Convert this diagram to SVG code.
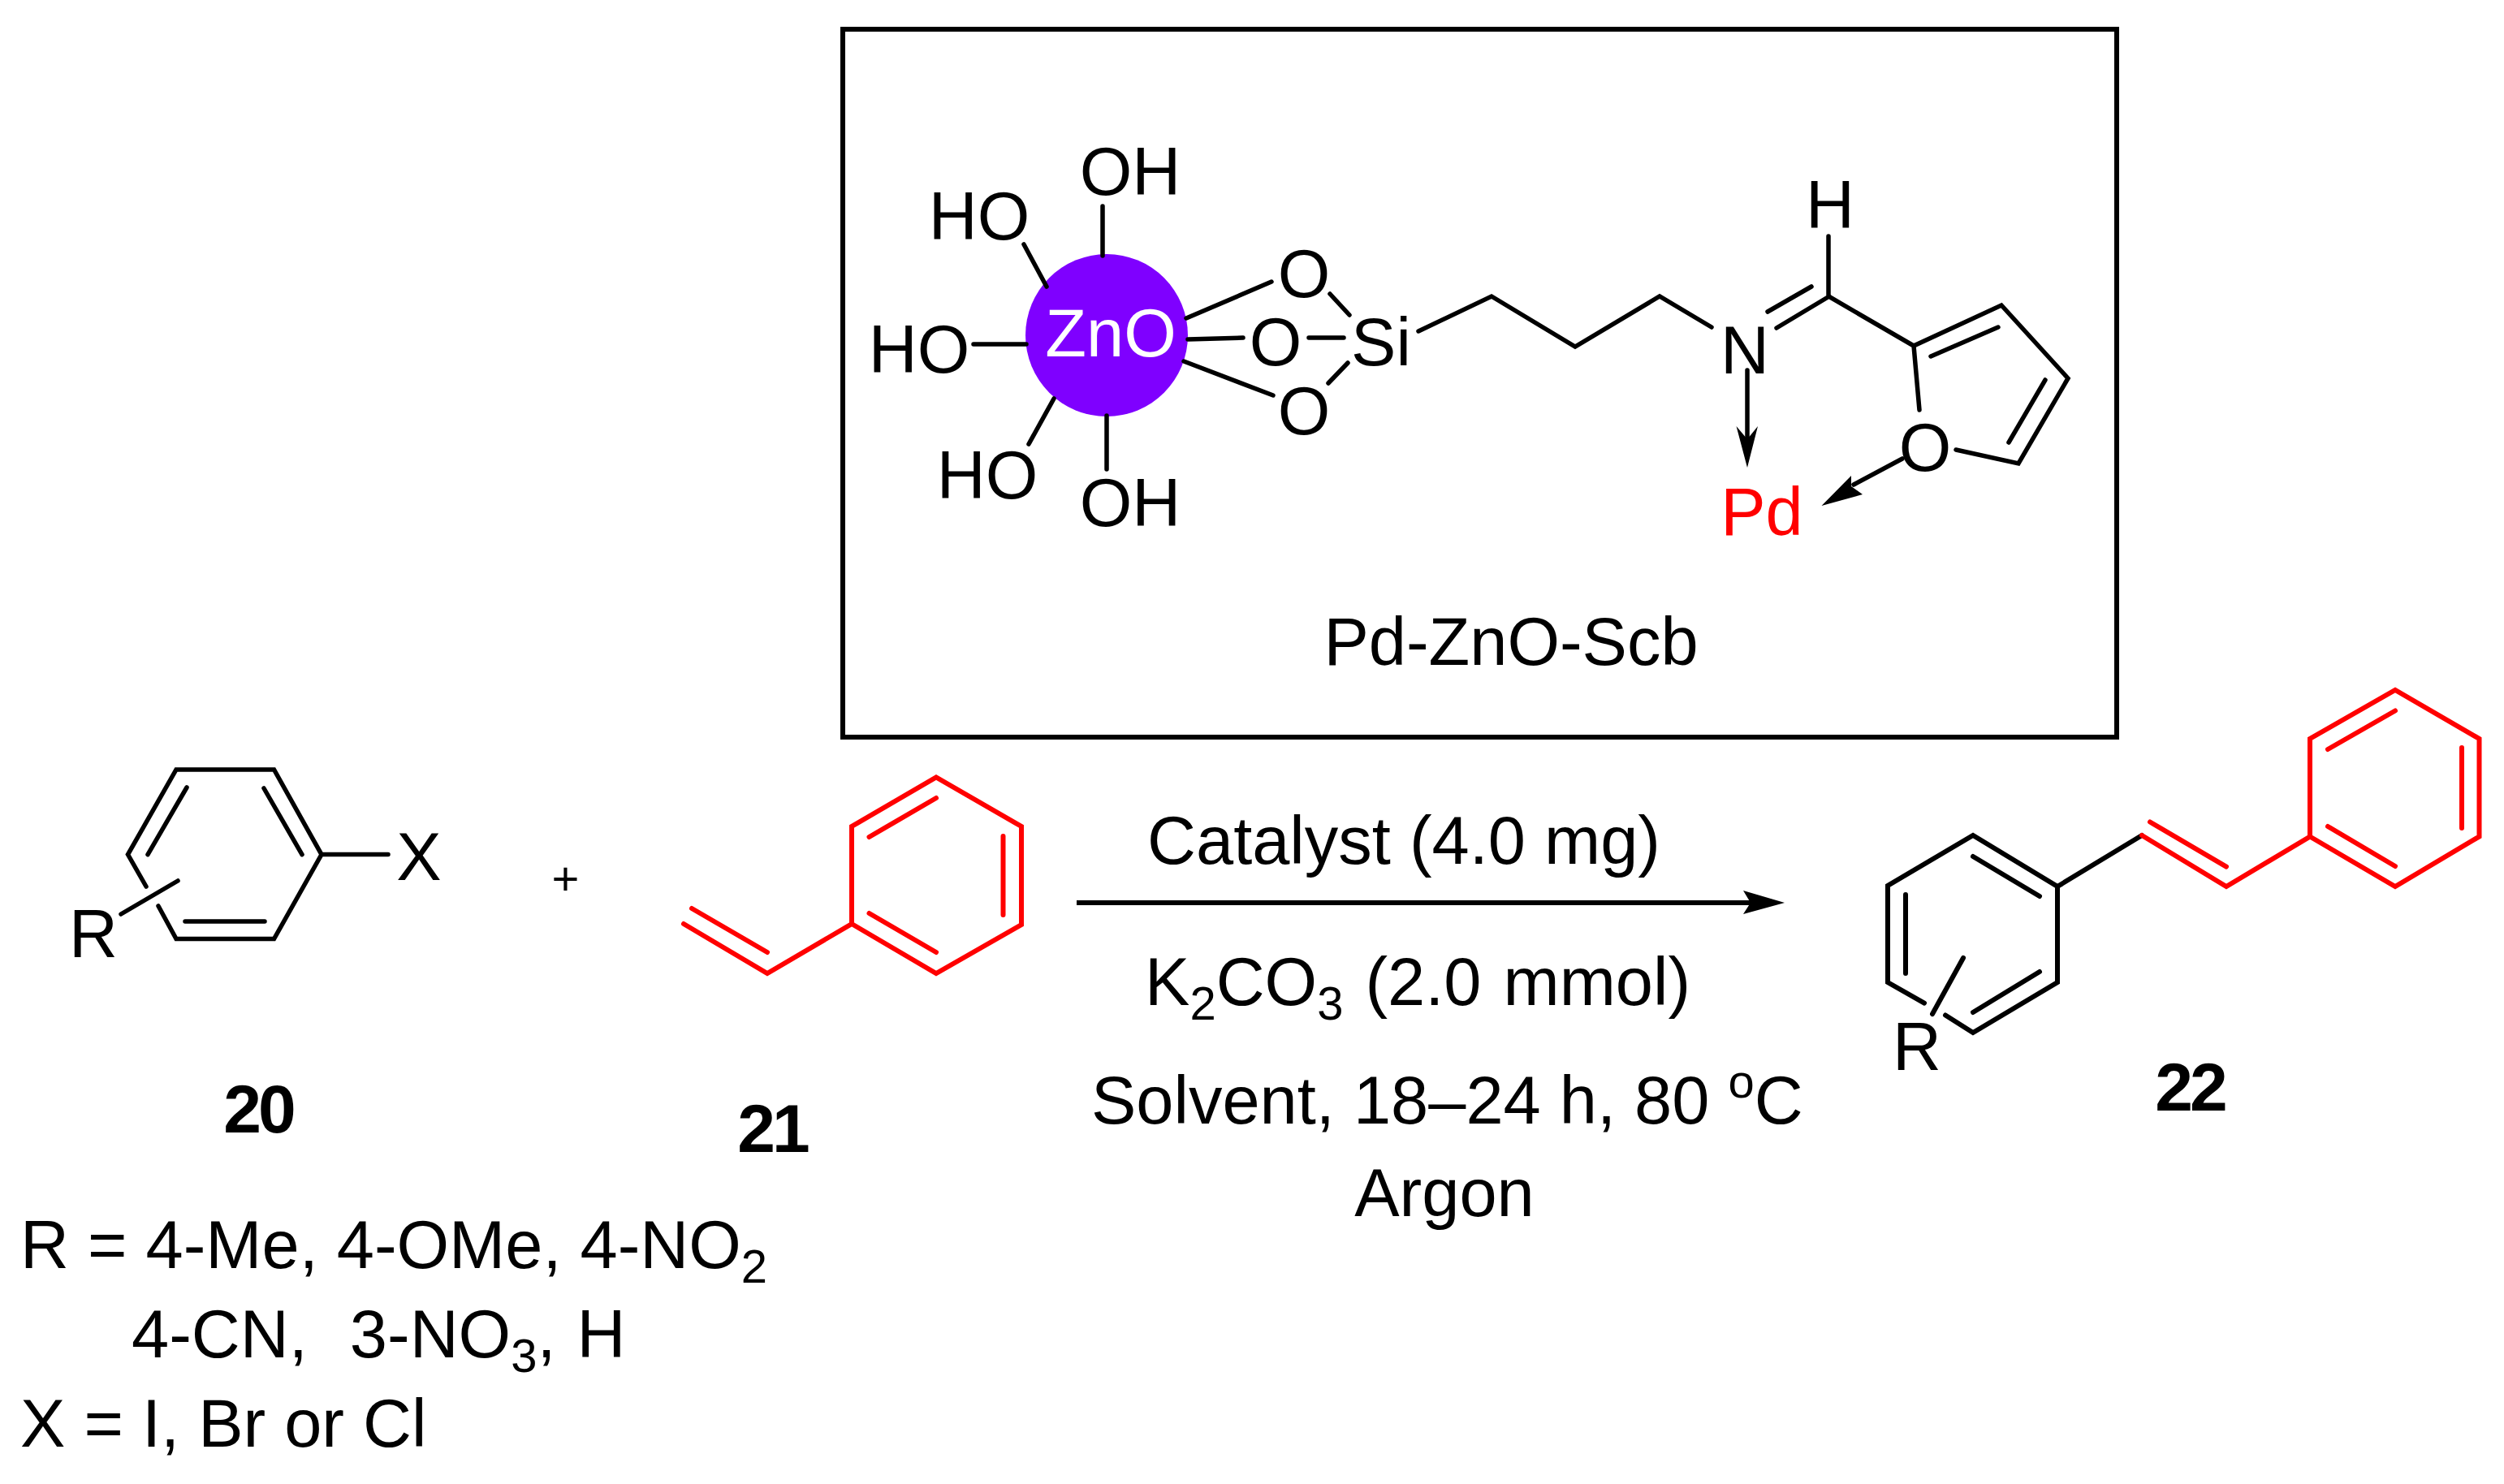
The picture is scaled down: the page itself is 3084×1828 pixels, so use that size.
<svg xmlns="http://www.w3.org/2000/svg" width="3084" height="1828" viewBox="0 0 3084 1828">
<style>
text{font-family:"Liberation Sans",Arial,sans-serif;font-size:83px;fill:#000;white-space:pre}
.b{font-weight:bold;font-size:84px;letter-spacing:-4px}
.m{text-anchor:middle}
.bond{fill:none;stroke:#000;stroke-width:5.500;stroke-linecap:round;stroke-linejoin:miter}
.red{fill:none;stroke:#f00;stroke-width:6;stroke-linecap:round;stroke-linejoin:miter}
.sub{font-size:58px}
</style>
<rect width="3084" height="1828" fill="#fff"/>
<g id="frame"><rect x="1038" y="36" width="1569" height="872" fill="none" stroke="#000" stroke-width="6"/></g>
<g id="zno-particle">
<circle cx="1363" cy="413" r="100" fill="#7f00ff"/>
<text x="1368" y="439" class="m" style="fill:#fff">ZnO</text>
<path class="bond" d="M1358 254V315M1261 301L1289 353M1199 424H1264M1298 491L1267 547M1363 512V578M1461 392L1566 347M1463 418L1531 416M1458 445L1568 487M1638 362L1662 388M1612 416H1655M1660 447L1636 472"/>
<text x="1392" y="240" class="m">OH</text>
<text x="1206" y="295" class="m">HO</text>
<text x="1132" y="459" class="m">HO</text>
<text x="1216" y="614" class="m">HO</text>
<text x="1392" y="648" class="m">OH</text>
<text x="1606" y="366" class="m">O</text>
<text x="1571" y="450" class="m">O</text>
<text x="1606" y="535" class="m">O</text>
<text x="1701" y="450" class="m">Si</text>
</g>
<g id="imine-furan-ligand">
<path class="bond" d="M1747 408L1837 365L1940 427L2044 365L2108 403M2188 404L2253 365M2177 384L2231 353M2252 291V365L2357 426M2364 505L2357 426L2465 376L2547 466L2486 571L2409 554M2378 439L2461 403M2519 468L2474 545"/>
<text x="2149" y="460" class="m">N</text>
<text x="2254" y="281" class="m">H</text>
<text x="2371" y="580" class="m">O</text>
</g>
<g id="pd"><text x="2170" y="659" class="m" style="fill:#f00">Pd</text></g>
<g id="catalyst-label"><text x="1861" y="819" class="m">Pd-ZnO-Scb</text></g>
<g id="compound-20">
<path class="bond" d="M180 1092L157.500 1052.600L217 948H337.500L396 1052.600L337.500 1156.500H217L195 1116M230 970L182 1052.600M325 971L372 1052.600M228 1135H326M396 1052.600H478M219 1085L149 1126"/>
<text x="516" y="1084" class="m">X</text>
<text x="115" y="1179" class="m">R</text>
<text x="318" y="1395" class="m b">20</text>
</g>
<g id="plus"><text x="696.500" y="1102" class="m" style="font-size:58px">+</text></g>
<g id="compound-21">
<path class="red" d="M842 1138L945 1199L1049 1138V1018L1153 957.500L1258 1018V1139L1153 1199L1049 1138M852 1119L945 1173M1070.500 1031L1153 983M1235.500 1030V1127M1070.500 1125L1153 1173"/>
<text x="951" y="1419" class="m b">21</text>
</g>
<g id="substituents">
<text x="25" y="1562">R = 4-Me, 4-OMe, 4-NO<tspan class="sub" dy="18">2</tspan></text>
<text x="162" y="1672" style="word-spacing:3px">4-CN,  3-NO<tspan class="sub" dy="18">3</tspan><tspan dy="-18">, H</tspan></text>
<text x="25" y="1782">X = I, Br or Cl</text>
</g>
<g id="conditions">
<text x="1729" y="1064" class="m">Catalyst (4.0 mg)</text>
<text x="1410" y="1238">K<tspan class="sub" dy="18">2</tspan><tspan dy="-18">CO</tspan><tspan class="sub" dy="18">3</tspan><tspan dy="-18" style="word-spacing:4px"> (2.0 mmol)</tspan></text>
<text x="1344" y="1384">Solvent, 18–24 h, 80 <tspan class="sub" dy="-32">o</tspan><tspan dy="32">C</tspan></text>
<text x="1779" y="1498" class="m">Argon</text>
</g>
<g id="compound-22">
<path class="bond" style="stroke-width:6" d="M2396 1250.500L2430 1272L2534 1210V1092L2430 1029L2325 1091V1210L2370 1235.600M2430 1055L2512 1104M2347 1102V1199M2430 1247L2512 1197M2418 1180L2380 1249M2534 1092L2638 1029"/>
<path class="red" d="M2638 1029L2742 1092L2845 1030.500V910L2950 850L3053.500 910V1030.500L2950 1092L2845 1030.500M2648 1012.500L2742 1067.600M2867 923L2950 875.500M3032 921V1020M2867 1018L2950 1067"/>
<text x="2361" y="1318" class="m">R</text>
<text x="2697" y="1368" class="m b">22</text>
</g>
<g id="connectors">
<path class="bond" d="M2152 456V545"/>
<path d="M2152 576L2138.500 525L2152 541L2165 525Z" fill="#000"/>
<path class="bond" d="M2343 565L2283 597"/>
<path d="M2243.500 623L2280 586L2280 599L2294 609Z" fill="#000"/>
<path d="M1326 1112H2160" fill="none" stroke="#000" stroke-width="6"/>
<path d="M2198 1112L2147 1097L2156 1112L2147 1126Z" fill="#000"/>
</g>
</svg>
